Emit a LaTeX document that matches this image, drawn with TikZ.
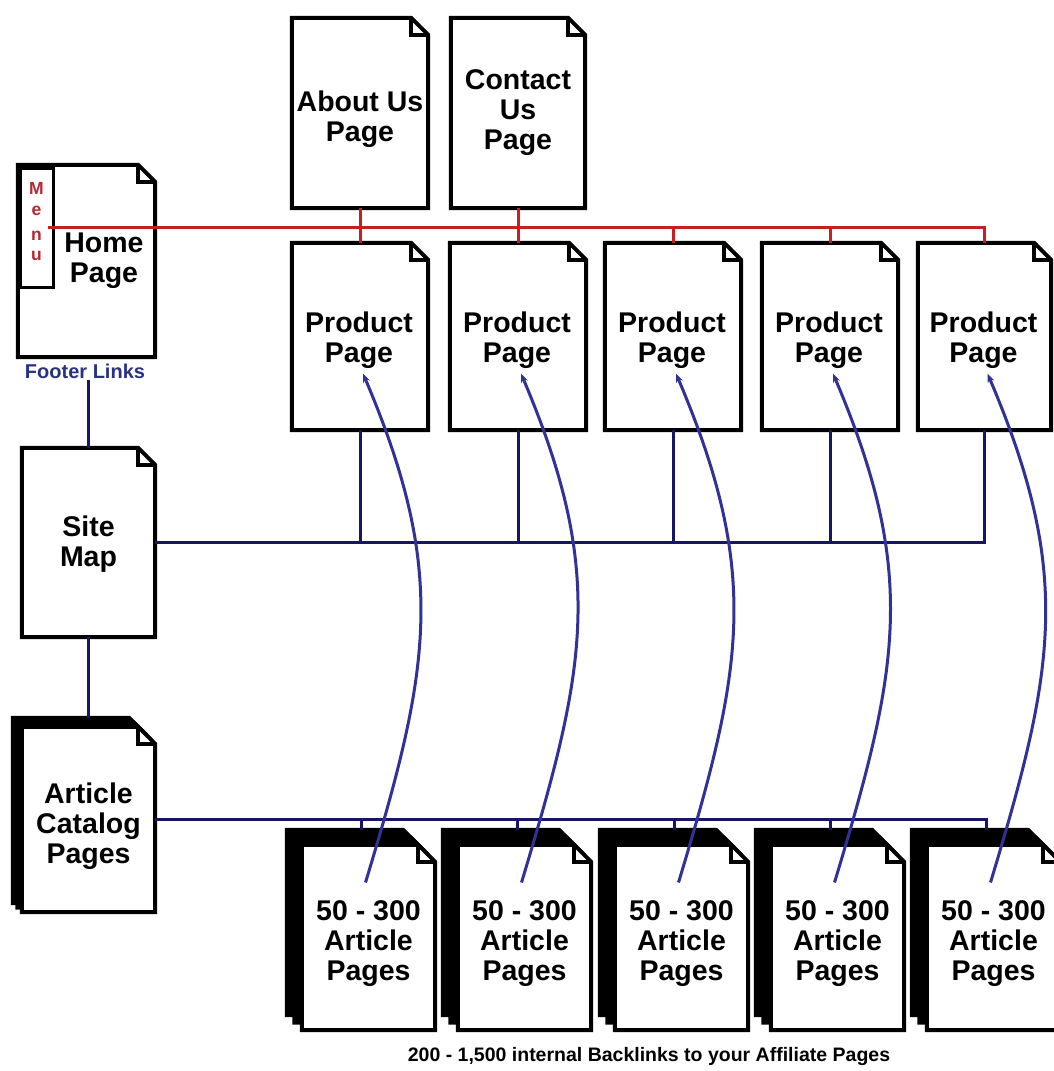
\documentclass[tikz,border=0pt]{standalone}
\usepackage{fontspec}
\setmainfont{Liberation Sans}
\usetikzlibrary{calc,arrows.meta}
\pgfdeclarelayer{bg}
\pgfsetlayers{bg,main}
\definecolor{redbus}{RGB}{200,30,35}
\definecolor{bluebus}{RGB}{22,22,100}
\definecolor{arcblue}{RGB}{50,50,150}
\definecolor{footblue}{RGB}{40,50,130}
\definecolor{menured}{RGB}{180,40,50}
\newcommand\fd{17}
\newcommand\pgshape[4]{%
  \draw[pageline, fill=#2]
    ($(#1.south west)+(#3,#4)$) -- ($(#1.north west)+(#3,#4)$) --
    ($(#1.north east)+(#3-\fd,#4)$) -- ($(#1.north east)+(#3,#4+\fd)$) --
    ($(#1.south east)+(#3,#4)$) -- cycle;
  \draw[pageline] ($(#1.north east)+(#3-\fd,#4)$) |- ($(#1.north east)+(#3,#4+\fd)$);}
\tikzset{
  pg/.style={inner sep=0pt},
  txt/.style={inner sep=0pt, align=center, font=\bfseries\fontsize{28.5}{30}\selectfont},
  pageline/.style={line width=4pt, draw=black, line join=miter},
  menubox/.style={draw=black, line width=3pt, inner sep=0pt},
  menuletter/.style={anchor=base, inner sep=0pt, text=menured, font=\bfseries\fontsize{17.5}{17.5}\selectfont},
  footer/.style={inner sep=1pt, text=footblue, font=\bfseries\fontsize{20}{20}\selectfont},
  redl/.style={draw=redbus, line width=3pt},
  bluel/.style={draw=bluebus, line width=3pt},
  backarc/.style={draw=arcblue, line width=3pt, -{Stealth[length=9pt,width=7pt]}},
  caption/.style={inner sep=0pt, font=\bfseries\fontsize{19.5}{19.5}\selectfont}
}
\begin{document}
\begin{tikzpicture}[x=1pt,y=-1pt]
\useasboundingbox (0,0) rectangle (1053,1071);
\begin{pgfonlayer}{bg}\fill[white] (0,0) rectangle (1053,1071);\end{pgfonlayer}

% left column
\node[pg, minimum width=137pt, minimum height=192pt] (home) at (86.5,261) {};
\node[txt] (hometext) at (104,261) {Home\\Page};
\node[menubox, minimum width=33pt, minimum height=119pt] (menu) at (36.5,227.5) {};
\node[menuletter] (mM) at (36.5,194) {M};
\node[menuletter] (me) at (36.5,215) {e};
\node[menuletter] (mn) at (36.5,240) {n};
\node[menuletter] (mu) at (36.5,260) {u};
\node[footer] (footer) at (85,371) {Footer Links};
\node[pg, minimum width=133pt, minimum height=189pt] (sitemap) at (88.5,542.5) {};
\node[txt] (sitemaptext) at (88.5,544.5) {Site\\Map};
\node[pg, minimum width=133pt, minimum height=185pt] (catalog) at (88.5,819.5) {};
\node[txt] (catalogtext) at (88.5,826) {Article\\Catalog\\Pages};

% top pages
\node[pg, minimum width=136pt, minimum height=190pt] (about) at (360,113) {};
\node[txt] (abouttext) at (360,119) {About Us\\Page};
\node[pg, minimum width=134pt, minimum height=190pt] (contact) at (518,113) {};
\node[txt] (contacttext) at (518,113) {Contact\\Us\\Page};

% product pages
\node[pg, minimum width=136pt, minimum height=187pt] (prod1) at (360,336.5) {};
\node[pg, minimum width=136pt, minimum height=187pt] (prod2) at (518,336.5) {};
\node[pg, minimum width=136pt, minimum height=187pt] (prod3) at (673,336.5) {};
\node[pg, minimum width=136pt, minimum height=187pt] (prod4) at (830,336.5) {};
\node[pg, minimum width=133pt, minimum height=187pt] (prod5) at (984.5,336.5) {};

% article stacks
\node[pg, minimum width=133pt, minimum height=185pt] (art1) at (368.5,937.5) {};
\node[pg, minimum width=133pt, minimum height=185pt] (art2) at (524.5,937.5) {};
\node[pg, minimum width=133pt, minimum height=185pt] (art3) at (681.5,937.5) {};
\node[pg, minimum width=133pt, minimum height=185pt] (art4) at (837.5,937.5) {};
\node[pg, minimum width=133pt, minimum height=185pt] (art5) at (993.5,937.5) {};

\foreach \i in {1,...,5}{
  \node[txt] (prodtext\i) at ($(prod\i.center)+(-1,4)$) {Product\\Page};
  \node[txt] (arttext\i) at ($(art\i.center)+(0,6)$) {50 - 300\\Article\\Pages};
}

\node[caption] (caption) at (649,1056) {200 - 1,500 internal Backlinks to your Affiliate Pages};

% page outlines
\begin{pgfonlayer}{bg}
  \pgshape{home}{white}{0}{0}
  \pgshape{sitemap}{white}{0}{0}
  \pgshape{catalog}{black}{-9}{-9}
  \pgshape{catalog}{black}{-4.5}{-4.5}
  \pgshape{catalog}{white}{0}{0}
  \pgshape{about}{white}{0}{0}
  \pgshape{contact}{white}{0}{0}
  \foreach \i in {1,...,5}{
    \pgshape{prod\i}{white}{0}{0}
    \pgshape{art\i}{black}{-15}{-15}
    \pgshape{art\i}{black}{-7.5}{-7.5}
    \pgshape{art\i}{white}{0}{0}
  }
\end{pgfonlayer}

% red menu bus
\coordinate (redstart) at ($(menu.east)+(-7,0)$);
\draw[redl] (redstart) -- (prod5.north |- menu.east) -- (prod5.north);
\draw[redl] (about.south) -- (prod1.north);
\draw[redl] (contact.south) -- (prod2.north);
\draw[redl] (prod3.north |- menu.east) -- (prod3.north);
\draw[redl] (prod4.north |- menu.east) -- (prod4.north);

% site map bus
\draw[bluel] (footer.south -| sitemap.north) -- (sitemap.north);
\draw[bluel] (sitemap.south) -- ($(catalog.north)+(0,-9)$);
\draw[bluel] (sitemap.east) -- (prod5.south |- sitemap.east) -- (prod5.south);
\foreach \i in {1,...,4}{
  \draw[bluel] (prod\i.south) -- (prod\i.south |- sitemap.east);
}

% article catalog bus
\foreach \i in {1,...,5}{
  \coordinate (st\i) at ($(art\i.north)+(-7,-15)$);
}
\draw[bluel] (catalog.east) -- (st5 |- catalog.east) -- (st5);
\foreach \i in {1,...,4}{
  \draw[bluel] (st\i |- catalog.east) -- (st\i);
}

% backlink arcs
\foreach \i in {1,...,5}{
  \coordinate (a\i) at ($(art\i.center)+(-3,-55)$);
  \coordinate (p\i) at ($(prod\i.center)+(3,37)$);
  \draw[backarc] (a\i) .. controls +(65,-215) and +(85,200) .. (p\i);
}
\end{tikzpicture}
\end{document}
